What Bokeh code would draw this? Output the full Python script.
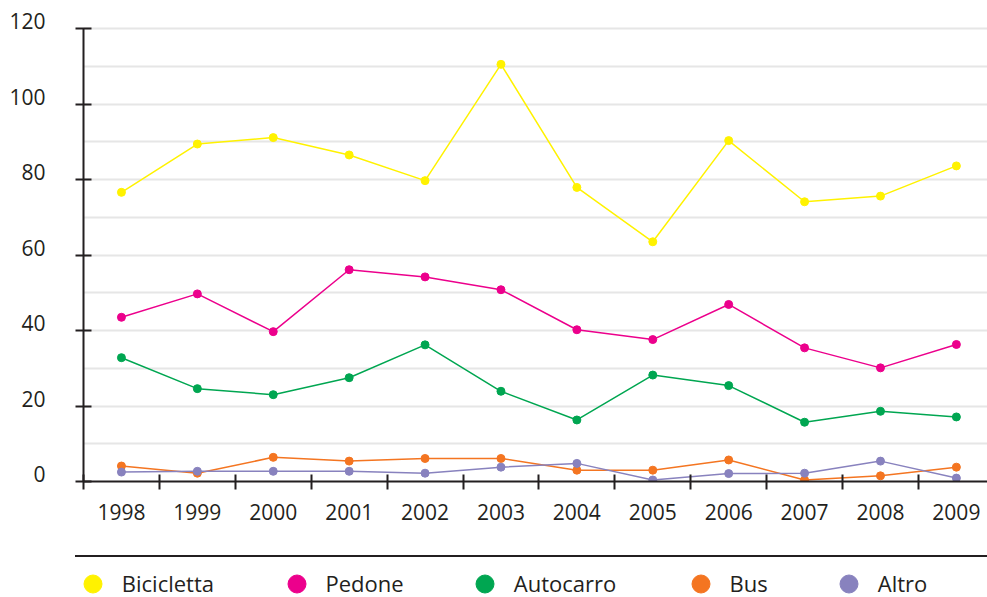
import numpy as np
from bokeh.plotting import figure
from bokeh.layouts import column
from bokeh.models import (FixedTicker, ColumnDataSource, Legend, LegendItem,
                          Range1d, LinearAxis, Div)
from bokeh.embed import file_html
from bokeh.resources import INLINE

# ---- data -------------------------------------------------------------
years = ["1998", "1999", "2000", "2001", "2002", "2003",
         "2004", "2005", "2006", "2007", "2008", "2009"]
bicicletta = [76.6, 89.4, 91.1, 86.5, 79.7, 110.5, 77.9, 63.5, 90.3, 74.1, 75.6, 83.6]
pedone = [43.5, 49.7, 39.7, 56.1, 54.2, 50.8, 40.2, 37.6, 46.9, 35.4, 30.1, 36.3]
autocarro = [32.8, 24.6, 23.0, 27.5, 36.2, 23.9, 16.3, 28.2, 25.4, 15.7, 18.6, 17.1]
bus = [4.1, 2.2, 6.4, 5.4, 6.1, 6.1, 3.0, 3.0, 5.7, 0.4, 1.5, 3.8]
altro = [2.5, 2.7, 2.7, 2.7, 2.2, 3.8, 4.8, 0.4, 2.1, 2.2, 5.4, 0.9]
series_names = ["Bicicletta", "Pedone", "Autocarro", "Bus", "Altro"]
series_colors = ["#fff200", "#ec008c", "#00a651", "#f47521", "#8882be"]
y_ticks = [0, 20, 40, 60, 80, 100, 120]
y_grid = [10, 20, 30, 40, 50, 60, 70, 80, 90, 100, 110, 120]

DARK = "#231f20"
FONT = "Open Sans"

idx = list(range(len(years)))
boundaries = [i - 0.5 for i in idx]

# ---- main chart ---------------------------------------------------------
p = figure(width=987, height=545, output_backend="svg", toolbar_location=None,
           x_range=Range1d(-0.5, 11.41), y_range=Range1d(0, 127.42),
           min_border_left=83, min_border_right=0, min_border_top=0,
           min_border_bottom=64)
p.outline_line_color = None
p.background_fill_color = "white"
p.border_fill_color = "white"

p.xgrid.visible = False
p.ygrid.ticker = FixedTicker(ticks=y_grid)
p.ygrid.grid_line_color = "#e6e6e6"
p.ygrid.grid_line_width = 2

xa = p.xaxis[0]
xa.ticker = FixedTicker(ticks=idx, minor_ticks=boundaries)
xa.major_label_overrides = {i: y for i, y in zip(idx, years)}
xa.major_tick_in = 0
xa.major_tick_out = 0
xa.minor_tick_in = 7
xa.minor_tick_out = 8
xa.minor_tick_line_width = 2
xa.minor_tick_line_color = DARK
xa.axis_line_width = 2
xa.axis_line_color = DARK
xa.major_label_text_font = FONT
xa.major_label_text_font_size = "21px"
xa.major_label_text_color = DARK
xa.major_label_standoff = 14

ya = p.yaxis[0]
ya.ticker = FixedTicker(ticks=y_ticks, minor_ticks=[])
ya.bounds = (0, 120)
ya.major_tick_in = 8
ya.major_tick_out = 8
ya.major_tick_line_width = 2
ya.major_tick_line_color = DARK
ya.axis_line_width = 2
ya.axis_line_color = DARK
ya.major_label_text_font_size = "0px"
ya.major_label_text_color = None
ya.major_label_standoff = 0

# labels of the y axis sit slightly above their tick marks
label_shift = 1.9
ylab_axis = LinearAxis(ticker=FixedTicker(ticks=[t + label_shift for t in y_ticks], minor_ticks=[]),
                       major_label_overrides={t + label_shift: str(t) for t in y_ticks},
                       axis_line_color=None, major_tick_line_color=None,
                       minor_tick_line_color=None, major_tick_in=0, major_tick_out=0,
                       major_label_standoff=30, major_label_text_font=FONT,
                       major_label_text_font_size="21px", major_label_text_color=DARK)
p.add_layout(ylab_axis, "left")

for name, vals, col in zip(series_names, [bicicletta, pedone, autocarro, bus, altro],
                           series_colors):
    src = ColumnDataSource(dict(x=idx, y=vals))
    p.line("x", "y", source=src, line_color=col, line_width=1.5)
    p.scatter("x", "y", source=src, size=8, fill_color=col, line_color=col)

# ---- separator rule -----------------------------------------------------
rule = Div(text="", width=912, height=2, margin=(10, 0, 0, 75),
           styles={"background-color": DARK, "overflow": "hidden"})

# ---- legend strip -------------------------------------------------------
p2 = figure(width=987, height=40, output_backend="svg", toolbar_location=None,
            x_range=Range1d(0, 904), y_range=Range1d(0, 40),
            min_border_left=83, min_border_right=0, min_border_top=0,
            min_border_bottom=0, x_axis_location=None, y_axis_location=None)
p2.outline_line_color = None
p2.xgrid.visible = False
p2.ygrid.visible = False

legend_x = [-13.2, 190.5, 378.8, 594.5, 742.8]
for name, col, lx in zip(series_names, series_colors, legend_x):
    # invisible point only used as the legend swatch
    r = p2.scatter(x=np.array([np.nan]), y=np.array([np.nan]), size=8,
                   fill_color=col, line_color=col)
    leg = Legend(items=[LegendItem(label=name, renderers=[r])],
                 location=(lx, -8.8), orientation="horizontal",
                 glyph_width=45, glyph_height=45, label_standoff=7,
                 padding=0, margin=0, spacing=0,
                 border_line_color=None, background_fill_alpha=0,
                 label_text_font=FONT, label_text_font_size="22px",
                 label_text_color=DARK)
    p2.add_layout(leg)

layout = column(p, rule, p2, spacing=0)
open("out.html", "w").write(file_html(layout, INLINE))
